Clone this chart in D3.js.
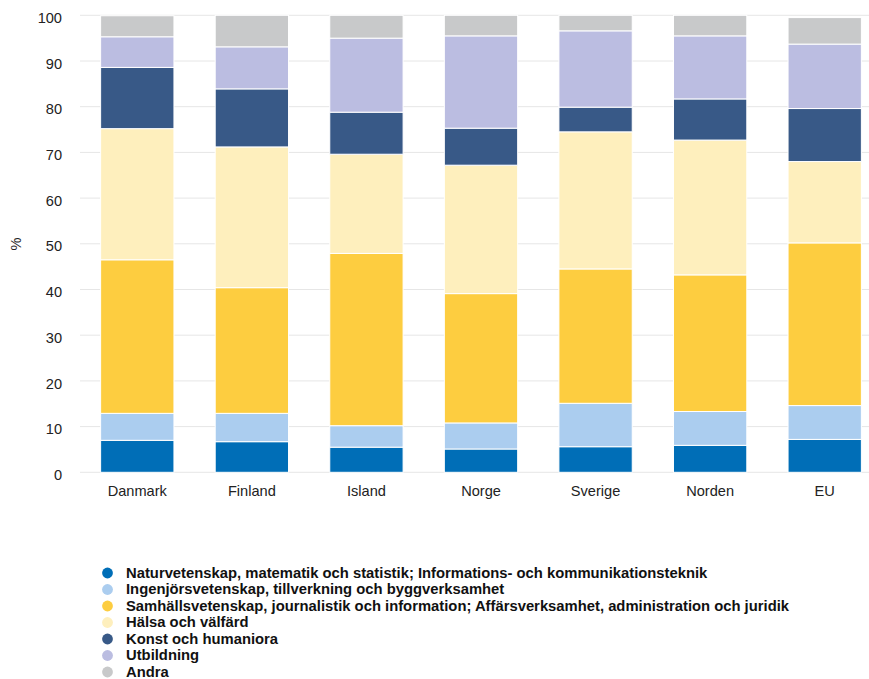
<!DOCTYPE html>
<html>
<head>
<meta charset="utf-8">
<script src="https://cdn.jsdelivr.net/npm/d3@7"></script>
<style>
  body { margin: 0; background: #fff; }
  text { font-family: "Liberation Sans", Arial, sans-serif; }
</style>
</head>
<body>
<svg id="chart" width="869" height="679"></svg>
<script>
// countries along the x axis
var countries = ["Danmark", "Finland", "Island", "Norge", "Sverige", "Norden", "EU"];

// series, bottom to top
var series_names = [
  "Naturvetenskap, matematik och statistik; Informations- och kommunikationsteknik",
  "Ingenjörsvetenskap, tillverkning och byggverksamhet",
  "Samhällsvetenskap, journalistik och information; Affärsverksamhet, administration och juridik",
  "Hälsa och välfärd",
  "Konst och humaniora",
  "Utbildning",
  "Andra"
];
var series_colors = ["#006eb7", "#abcdef", "#fdcd40", "#feefbd", "#385987", "#bbbde1", "#c8c9ca"];

// values per series, in the order of countries
var natur     = [7.0, 6.7, 5.5, 5.1, 5.6, 5.9, 7.2];
var ingenjor  = [5.9, 6.2, 4.7, 5.7, 9.5, 7.4, 7.4];
var samhall   = [33.6, 27.5, 37.7, 28.3, 29.4, 29.9, 35.6];
var halsa     = [28.7, 30.8, 21.7, 28.1, 30.0, 29.5, 17.8];
var konst     = [13.4, 12.7, 9.2, 8.1, 5.4, 9.0, 11.6];
var utbildning= [6.7, 9.2, 16.2, 20.2, 16.7, 13.8, 14.1];
var andra     = [4.6, 6.9, 5.0, 4.5, 3.4, 4.5, 5.8];

var y_ticks = [0, 10, 20, 30, 40, 50, 60, 70, 80, 90, 100];

var all_values = [natur, ingenjor, samhall, halsa, konst, utbildning, andra];
var keys = series_names.map(function(d, i){ return "s" + i; });

var table = countries.map(function(c, j){
  var row = { country: c };
  keys.forEach(function(k, i){ row[k] = all_values[i][j]; });
  return row;
});

var stacked = d3.stack().keys(keys)(table);

var font_size = 14.6;
var svg = d3.select("#chart");

var x = d3.scaleBand().domain(countries).range([80, 882]).paddingInner(0.36).paddingOuter(0.18);
var y = d3.scaleLinear().domain([0, 100]).range([472.3, 15.3]);

/*************************** grid ***************************/

svg.append("g").selectAll("line").data(y_ticks).join("line")
  .attr("x1", 80).attr("x2", 869)
  .attr("y1", function(d){ return y(d); }).attr("y2", function(d){ return y(d); })
  .attr("stroke", "#e6e6e6").attr("stroke-width", 1);

/*************************** y axis ***************************/

var y_axis = svg.append("g").attr("transform", "translate(62,2.5)")
  .call(d3.axisLeft(y).tickValues(y_ticks).tickSize(0).tickPadding(0));
y_axis.select(".domain").remove();
y_axis.selectAll("text").attr("font-size", font_size).attr("fill", "#222").attr("font-family", "Liberation Sans, Arial, sans-serif");

svg.append("text")
  .attr("transform", "translate(21,244) rotate(-90)")
  .attr("text-anchor", "middle")
  .attr("font-size", font_size).attr("fill", "#222")
  .text("%");

/*************************** bars ***************************/

svg.append("g").selectAll("g").data(stacked).join("g")
  .attr("fill", function(d, i){ return series_colors[i]; })
  .selectAll("rect").data(function(d){ return d; }).join("rect")
  .attr("x", function(d){ return x(d.data.country); })
  .attr("width", x.bandwidth())
  .attr("y", function(d){ return y(d[1]); })
  .attr("height", function(d){ return y(d[0]) - y(d[1]); })
  .attr("stroke", "#ffffff").attr("stroke-width", 1);

/*************************** x axis ***************************/

var x_axis = svg.append("g").attr("transform", "translate(0,485.5)")
  .call(d3.axisBottom(x).tickSize(0).tickPadding(0));
x_axis.select(".domain").remove();
x_axis.selectAll("text").attr("font-size", font_size).attr("fill", "#222").attr("font-family", "Liberation Sans, Arial, sans-serif");

/*************************** legend ***************************/

var legend = svg.append("g").selectAll("g").data(series_names).join("g")
  .attr("transform", function(d, i){ return "translate(107.5," + (573 + i*16.5) + ")"; });

legend.append("circle").attr("r", 5.4).attr("cx", 0).attr("cy", 0)
  .attr("fill", function(d, i){ return series_colors[i]; });

legend.append("text").attr("x", 18.5).attr("y", 4.8)
  .attr("font-size", 14.8).attr("font-weight", "bold").attr("fill", "#111")
  .text(function(d){ return d; });
</script>
</body>
</html>
